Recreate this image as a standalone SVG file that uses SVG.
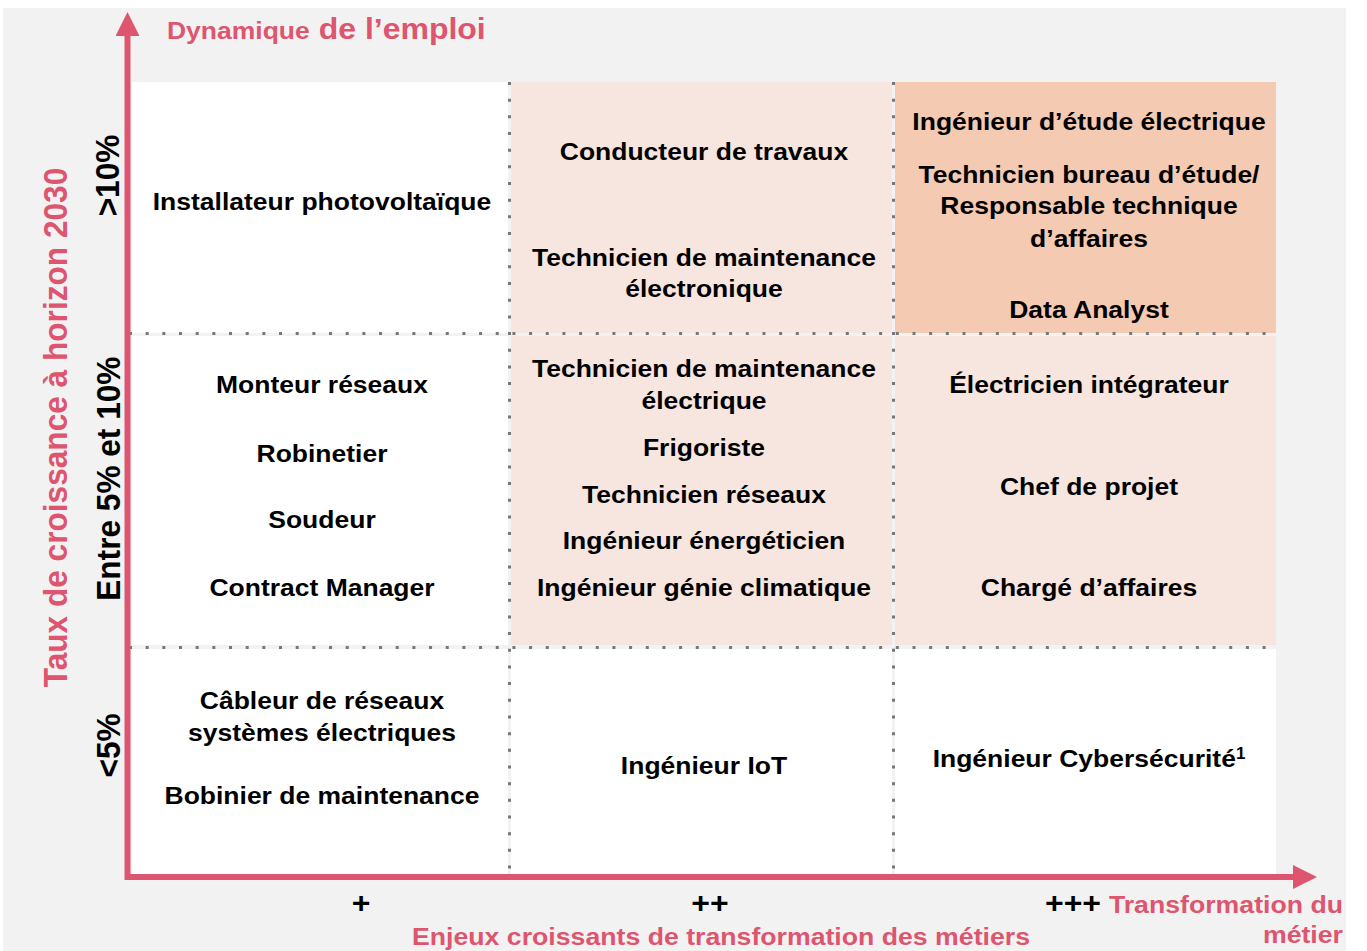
<svg xmlns="http://www.w3.org/2000/svg" width="1367" height="951" viewBox="0 0 1367 951">
<style>
.bg{fill:#F2F2F2}
.w{fill:#FFFFFF}
.p{fill:#F6E6DF}
.s{fill:#F5CAB2}
text{font-family:"Liberation Sans",Arial,sans-serif;font-weight:bold}
.t{font-size:26.5px;fill:#000;text-anchor:middle}
.red{fill:#DD556E}
.lbl{font-size:34px;fill:#000;text-anchor:middle}
.dot{stroke:#777777;stroke-width:3;stroke-dasharray:3 13.67;fill:none}
.ax{stroke:#DD556E;stroke-width:6;fill:none;stroke-linejoin:miter}
</style>
<defs>
<marker id="arr" markerUnits="userSpaceOnUse" markerWidth="24" markerHeight="24" viewBox="0 0 24 24" refX="0" refY="12" orient="auto-start-reverse">
<path d="M0 0 L24 12 L0 24 Z" fill="#DD556E"/>
</marker>
</defs>
<rect width="1367" height="951" fill="#FFFFFF"/>
<rect class="bg" x="3" y="8" width="1343" height="943"/>

<g id="cell-r1c1"><rect class="w" x="132" y="82" width="376" height="251"/>
<g transform="scale(1 0.93)"><text class="t" x="322" y="225.3">Installateur photovoltaïque</text></g></g>
<g id="cell-r1c2"><rect class="p" x="511" y="82" width="381" height="251"/>
<g transform="scale(1 0.93)"><text class="t" x="704" y="172.0">Conducteur de travaux</text>
<text class="t" x="704" y="285.7">Technicien de maintenance</text>
<text class="t" x="704" y="319.4">électronique</text></g></g>
<g id="cell-r1c3"><rect class="s" x="895" y="82" width="381" height="251"/>
<g transform="scale(1 0.93)"><text class="t" x="1089" y="139.8">Ingénieur d’étude électrique</text>
<text class="t" x="1089" y="196.5">Technicien bureau d’étude/</text>
<text class="t" x="1089" y="230.4">Responsable technique</text>
<text class="t" x="1089" y="265.3">d’affaires</text>
<text class="t" x="1089" y="341.6">Data Analyst</text></g></g>

<g id="cell-r2c1"><rect class="w" x="132" y="336" width="376" height="309"/>
<g transform="scale(1 0.93)"><text class="t" x="322" y="422.3">Monteur réseaux</text>
<text class="t" x="322" y="496.5">Robinetier</text>
<text class="t" x="322" y="568.1">Soudeur</text>
<text class="t" x="322" y="640.9">Contract Manager</text></g></g>
<g id="cell-r2c2"><rect class="p" x="511" y="336" width="381" height="309"/>
<g transform="scale(1 0.93)"><text class="t" x="704" y="405.1">Technicien de maintenance</text>
<text class="t" x="704" y="439.8">électrique</text>
<text class="t" x="704" y="490.3">Frigoriste</text>
<text class="t" x="704" y="541.2">Technicien réseaux</text>
<text class="t" x="704" y="590.3">Ingénieur énergéticien</text>
<text class="t" x="704" y="640.5">Ingénieur génie climatique</text></g></g>
<g id="cell-r2c3"><rect class="p" x="895" y="336" width="381" height="309"/>
<g transform="scale(1 0.93)"><text class="t" x="1089" y="422.6">Électricien intégrateur</text>
<text class="t" x="1089" y="532.3">Chef de projet</text>
<text class="t" x="1089" y="640.9">Chargé d’affaires</text></g></g>

<g id="cell-r3c1"><rect class="w" x="132" y="649" width="376" height="226"/>
<g transform="scale(1 0.93)"><text class="t" x="322" y="762.7">Câbleur de réseaux</text>
<text class="t" x="322" y="796.5">systèmes électriques</text>
<text class="t" x="322" y="864.8">Bobinier de maintenance</text></g></g>
<g id="cell-r3c2"><rect class="w" x="511" y="649" width="381" height="226"/>
<g transform="scale(1 0.93)"><text class="t" x="704" y="832.3">Ingénieur IoT</text></g></g>
<g id="cell-r3c3"><rect class="w" x="895" y="649" width="381" height="226"/>
<g transform="scale(1 0.93)"><text class="t" x="1089" y="824.4">Ingénieur Cybersécurité<tspan font-size="17" dy="-8">1</tspan></text></g></g>

<g id="grid-lines">
<line class="dot" x1="509.5" y1="82" x2="509.5" y2="878"/>
<line class="dot" x1="893.5" y1="82" x2="893.5" y2="878"/>
<line class="dot" x1="129" y1="333.5" x2="1276" y2="333.5"/>
<line class="dot" x1="129" y1="647.5" x2="1276" y2="647.5"/>
</g>

<g id="axes">
<path class="ax" d="M127.5 36 V877 H1293" marker-start="url(#arr)" marker-end="url(#arr)"/>
</g>

<g id="labels" transform="scale(1 0.93)">
<text class="red" x="167" y="42.3"><tspan font-size="26.5">Dynamique</tspan><tspan font-size="32"> de l’emploi</tspan></text>
<text class="red" font-size="34" text-anchor="middle" transform="translate(66.7 459.7) rotate(-90)">Taux de croissance à horizon 2030</text>
<text class="lbl" transform="translate(119 188.7) rotate(-90)">&gt;10%</text>
<text class="lbl" transform="translate(120 514.7) rotate(-90)">Entre 5% et 10%</text>
<text class="lbl" transform="translate(120 801.5) rotate(-90)">&lt;5%</text>
<text font-size="32" fill="#000" text-anchor="middle" x="361" y="981.2">+</text>
<text font-size="32" fill="#000" text-anchor="middle" x="710" y="981.2">++</text>
<text font-size="32" fill="#000" text-anchor="middle" x="1073" y="981.2">+++</text>
<text class="red" font-size="26.67" text-anchor="end" x="1343" y="981.2">Transformation du</text>
<text class="red" font-size="26.67" text-anchor="end" x="1343" y="1014.3">métier</text>
<text class="red" font-size="26.67" text-anchor="middle" x="721" y="1016.1">Enjeux croissants de transformation des métiers</text>
</g>
</svg>
